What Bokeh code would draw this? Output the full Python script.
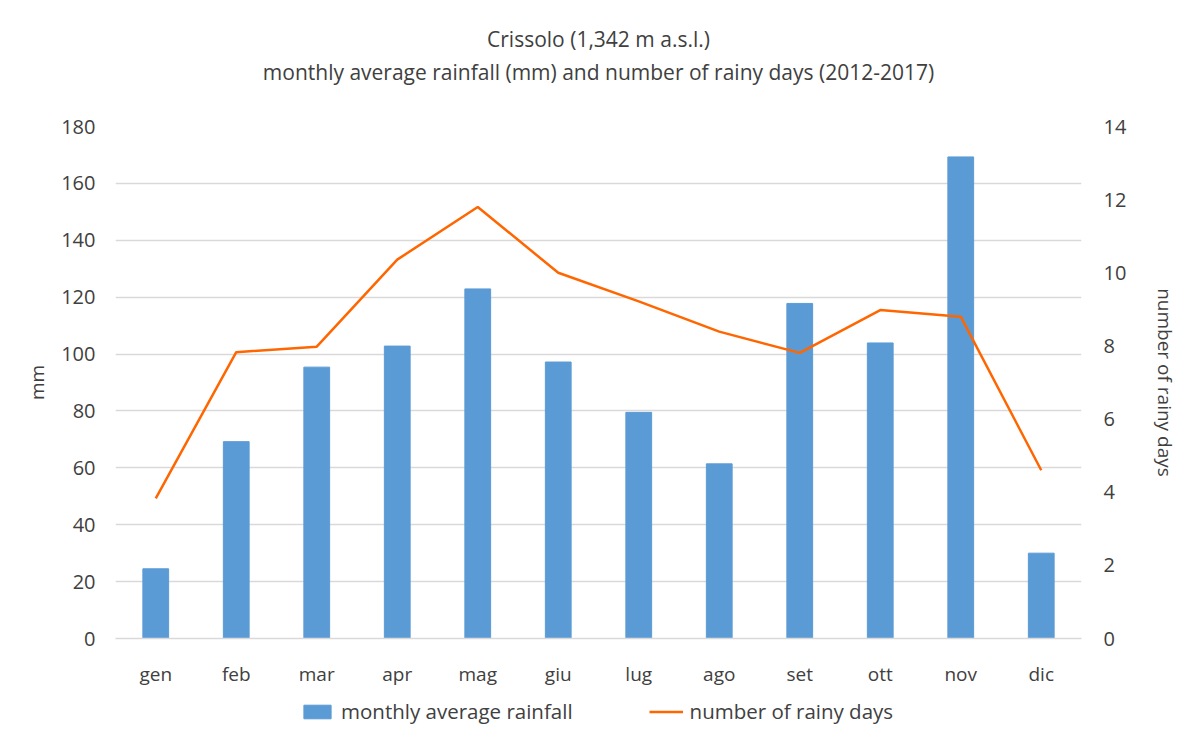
from bokeh.plotting import figure
from bokeh.models import Range1d, LinearAxis, Legend, FixedTicker, Title, ColumnDataSource
from bokeh.layouts import column
from bokeh.embed import file_html
from bokeh.resources import INLINE

months = ["gen", "feb", "mar", "apr", "mag", "giu", "lug", "ago", "set", "ott", "nov", "dic"]
rainfall_mm = [24.5, 69.2, 95.4, 102.8, 122.9, 97.2, 79.5, 61.4, 117.8, 103.9, 169.3, 30.0]
rainy_days = [3.83, 7.83, 7.98, 10.36, 11.8, 10.0, 9.22, 8.39, 7.81, 8.98, 8.8, 4.6]
left_ticks = [0, 20, 40, 60, 80, 100, 120, 140, 160, 180]
right_ticks = [0, 2, 4, 6, 8, 10, 12, 14]
series_names = ["monthly average rainfall", "number of rainy days"]

FONT = "Open Sans"
TXT = "#404040"
BAR_C = "#5B9BD5"
LINE_C = "#FF6600"

src = ColumnDataSource(dict(m=months, mm=rainfall_mm, d=rainy_days))

p = figure(x_range=months, y_range=Range1d(0, 180), width=1181, height=690,
           output_backend="svg", toolbar_location=None,
           min_border_left=115, min_border_right=96, min_border_top=126, min_border_bottom=52)
p.extra_y_ranges = {"days": Range1d(0, 14)}

bars = p.vbar(x="m", top="mm", width=0.32, source=src, fill_color=BAR_C, line_color=BAR_C)
line = p.line(x="m", y="d", source=src, y_range_name="days", line_color=LINE_C, line_width=2.5)

p.outline_line_color = None
p.xgrid.grid_line_color = None
p.ygrid.grid_line_color = "#D9D9D9"
p.ygrid.grid_line_width = 1.3

ly = p.yaxis[0]
lx = p.xaxis[0]
ly.ticker = FixedTicker(ticks=left_ticks)

ry = LinearAxis(y_range_name="days", ticker=FixedTicker(ticks=right_ticks))
p.add_layout(ry, "right")

for ax in [lx, ly, ry]:
    ax.major_tick_line_color = None
    ax.minor_tick_line_color = None
    ax.major_tick_out = 0
    ax.major_tick_in = 0
    ax.minor_tick_out = 0
    ax.minor_tick_in = 0
    ax.major_label_text_font = FONT
    ax.major_label_text_color = TXT
    ax.axis_label_text_font = FONT
    ax.axis_label_text_font_size = "19px"
    ax.axis_label_text_color = TXT
    ax.axis_label_text_font_style = "normal"

lx.major_label_text_font_size = "19px"
lx.axis_line_color = "#D9D9D9"
lx.axis_line_width = 1.3
lx.major_label_standoff = 22

ly.major_label_text_font_size = "20px"
ly.axis_line_color = None
ly.axis_label = "mm"
ly.major_label_standoff = 20
ly.axis_label_standoff = 8

ry.major_label_text_font_size = "20px"
ry.axis_line_color = None
ry.axis_label = "number of rainy days"
ry.major_label_standoff = 22
ry.axis_label_standoff = 23

spacer = Title(text=" ", text_font_size="1px", standoff=38)
t2 = Title(text="monthly average rainfall (mm) and number of rainy days (2012-2017)", align="center",
           text_font=FONT, text_font_size="21px", text_font_style="normal", text_color=TXT, standoff=0)
t1 = Title(text="Crissolo (1,342 m a.s.l.)", align="center",
           text_font=FONT, text_font_size="21px", text_font_style="normal", text_color=TXT, standoff=5)
p.add_layout(spacer, "above")
p.add_layout(t2, "above")
p.add_layout(t1, "above")

# legend strip below the chart (renderers kept off-screen; only the legend shows)
p2 = figure(width=1181, height=41, output_backend="svg", toolbar_location=None,
            x_range=p.x_range, y_range=Range1d(1000, 1001), x_axis_type=None, y_axis_type=None,
            min_border=0)
p2.outline_line_color = None
p2.xgrid.visible = False
p2.ygrid.visible = False
lb = p2.vbar(x="m", top="mm", width=0.32, source=src, fill_color=BAR_C, line_color=BAR_C)
ll = p2.line(x="m", y="d", source=src, line_color=LINE_C, line_width=2.5)

legend = Legend(items=[(series_names[0], [lb]), (series_names[1], [ll])],
                orientation="horizontal", location=(185, 6))
legend.label_text_font = FONT
legend.label_text_font_size = "20.5px"
legend.label_text_color = TXT
legend.border_line_color = None
legend.background_fill_alpha = 0
legend.glyph_width = 34
legend.glyph_height = 17
legend.spacing = 76
legend.label_standoff = 7
legend.margin = 0
legend.padding = 0
p2.add_layout(legend, "center")

layout = column(p, p2, spacing=0)
open("out.html", "w").write(file_html(layout, INLINE))
